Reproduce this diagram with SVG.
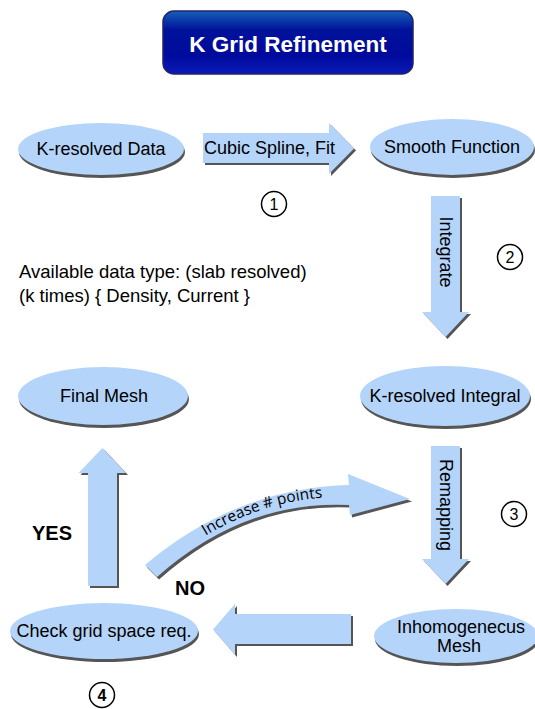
<svg xmlns="http://www.w3.org/2000/svg" width="535" height="709" viewBox="0 0 535 709">
<defs>
<linearGradient id="tg" x1="0" y1="0" x2="0" y2="1">
<stop offset="0" stop-color="#1560b8"/>
<stop offset="0.3" stop-color="#00129a"/>
<stop offset="0.7" stop-color="#000a9c"/>
<stop offset="1" stop-color="#0a1ab8"/>
</linearGradient>
<path id="curveText" d="M158,571 Q245,494 352,497"/>
</defs>
<style>
.fill{fill:#b4d4fa}
.sh{fill:#555}
.t{font-family:"Liberation Sans",Arial,sans-serif;font-size:18px;fill:#000}
.b{font-family:"Liberation Sans",Arial,sans-serif;font-size:20px;font-weight:bold;fill:#000}
.num circle{fill:#fff;stroke:#000;stroke-width:1.5}
.num text{font-family:"Liberation Sans",Arial,sans-serif;font-size:16px;fill:#000;text-anchor:middle}
</style>
<rect width="535" height="709" fill="#fff"/>

<g id="title">
<rect x="163" y="11" width="250" height="63" rx="11" fill="url(#tg)" stroke="#23236a" stroke-width="1.5"/>
<text x="288" y="52" font-family="Liberation Sans,Arial,sans-serif" font-size="22.5" font-weight="bold" fill="#fff" text-anchor="middle">K Grid Refinement</text>
</g>

<g id="connectors">
<g id="arrow-cubic">
<path class="sh" transform="translate(2,2)" d="M203,133 H329 V123 L354,148.5 L329,174 V163 H203 Z"/>
<path class="fill" d="M203,133 H329 V123 L354,148.5 L329,174 V163 H203 Z"/>
<text class="t" x="204" y="154">Cubic Spline, Fit</text>
</g>
<g id="arrow-integrate">
<path class="sh" transform="translate(2,2)" d="M431,196 H460 V312 H469 L445.5,337 L422,312 H431 Z"/>
<path class="fill" d="M431,196 H460 V312 H469 L445.5,337 L422,312 H431 Z"/>
<text class="t" transform="translate(446,252) rotate(90)" y="6" text-anchor="middle">Integrate</text>
</g>
<g id="arrow-remap">
<path class="sh" transform="translate(2,2)" d="M431,446 H460 V559 H469 L445.5,584 L422,559 H431 Z"/>
<path class="fill" d="M431,446 H460 V559 H469 L445.5,584 L422,559 H431 Z"/>
<text class="t" transform="translate(446,505) rotate(90)" y="6" text-anchor="middle">Remapping</text>
</g>
<g id="arrow-left">
<path class="sh" transform="translate(2,2)" d="M351,614 H235 V604 L213,629.5 L235,655 V644 H351 Z"/>
<path class="fill" d="M351,614 H235 V604 L213,629.5 L235,655 V644 H351 Z"/>
</g>
<g id="arrow-yes">
<path class="sh" transform="translate(2,2)" d="M88,586 V473 H78.5 L102.5,448 L126,473 H117 V586 Z"/>
<path class="fill" d="M88,586 V473 H78.5 L102.5,448 L126,473 H117 V586 Z"/>
</g>
<g id="arrow-increase">
<path class="sh" transform="translate(2,2.5)" d="M145,565 Q236,488 349,485 L348,474 L410,499 L350,515 L349,505 Q244,500 157,577 Z"/>
<path class="fill" d="M145,565 Q236,488 349,485 L348,474 L410,499 L350,515 L349,505 Q244,500 157,577 Z"/>
<text font-family="Open Sans,DejaVu Sans,sans-serif" font-size="15.5" fill="#000" text-anchor="middle"><textPath href="#curveText" startOffset="57%">Increase # points</textPath></text>
</g>
</g>

<g id="node-kdata">
<ellipse class="sh" cx="102" cy="152" rx="83" ry="26"/>
<ellipse class="fill" cx="101" cy="149" rx="83" ry="26"/>
<text class="t" x="101" y="154.5" text-anchor="middle">K-resolved Data</text>
</g>
<g id="node-smooth">
<ellipse class="sh" cx="453" cy="150" rx="82" ry="28"/>
<ellipse class="fill" cx="452" cy="147" rx="82" ry="28"/>
<text class="t" x="452" y="153" text-anchor="middle">Smooth Function</text>
</g>
<g id="node-final">
<ellipse class="sh" cx="104" cy="399" rx="85" ry="29"/>
<ellipse class="fill" cx="103" cy="396" rx="85" ry="29"/>
<text class="t" x="104" y="402" text-anchor="middle">Final Mesh</text>
</g>
<g id="node-kintegral">
<ellipse class="sh" cx="446" cy="399" rx="85" ry="30"/>
<ellipse class="fill" cx="445" cy="396" rx="85" ry="30"/>
<text class="t" x="445" y="402" text-anchor="middle">K-resolved Integral</text>
</g>
<g id="node-check">
<ellipse class="sh" cx="105" cy="634" rx="94" ry="28"/>
<ellipse class="fill" cx="104" cy="631" rx="94" ry="28"/>
<text class="t" x="104" y="637" text-anchor="middle">Check grid space req.</text>
</g>
<g id="node-inhomo">
<ellipse class="sh" cx="457" cy="639" rx="82" ry="27"/>
<ellipse class="fill" cx="456" cy="636" rx="82" ry="27"/>
<text class="t" x="461" y="633" text-anchor="middle">Inhomogenecus</text>
<text class="t" x="459" y="652" text-anchor="middle">Mesh</text>
</g>

<g id="note">
<text class="t" x="19" y="278" style="font-size:18.5px">Available data type: (slab resolved)</text>
<text class="t" x="19" y="302" style="font-size:18.5px">(k times) { Density, Current }</text>
</g>
<text class="b" x="32" y="540">YES</text>
<text class="b" x="175" y="595">NO</text>

<g id="step1" class="num"><circle cx="274" cy="204" r="12.5"/><text x="274" y="209.5">1</text></g>
<g id="step2" class="num"><circle cx="510" cy="257" r="12.5"/><text x="510" y="262.5">2</text></g>
<g id="step3" class="num"><circle cx="514" cy="514" r="12.5"/><text x="514" y="519.5">3</text></g>
<g id="step4" class="num"><circle cx="102" cy="695" r="12.5"/><text x="102" y="700.5" font-weight="bold">4</text></g>
</svg>
